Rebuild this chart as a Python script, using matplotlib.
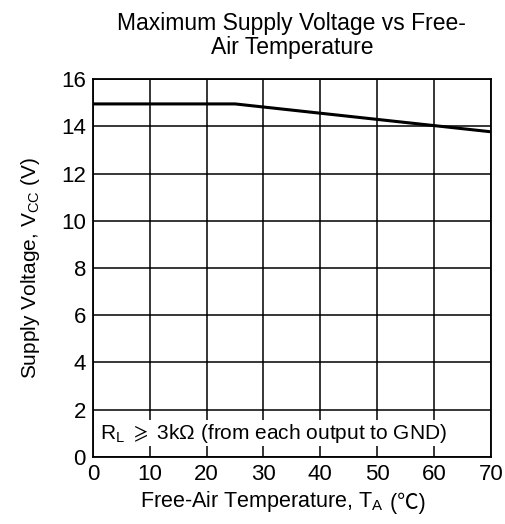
import matplotlib
matplotlib.use('Agg')
import matplotlib.pyplot as plt

plt.rcParams['font.family'] = ['Liberation Sans', 'Noto Sans CJK SC', 'DejaVu Sans']
plt.rcParams['mathtext.fontset'] = 'custom'
plt.rcParams['mathtext.rm'] = 'Liberation Sans'
plt.rcParams['mathtext.it'] = 'Liberation Sans'
plt.rcParams['mathtext.fallback'] = 'stix'

# 读图得到的数据
temp = [0, 25, 70]
vcc_max = [14.95, 14.95, 13.77]
x_ticks = [0, 10, 20, 30, 40, 50, 60, 70]
y_ticks = [0, 2, 4, 6, 8, 10, 12, 14, 16]

fig = plt.figure(figsize=(5.05, 5.24), dpi=100)
ax = fig.add_axes([0.184, 0.128, 0.788, 0.721])

ax.plot(temp, vcc_max, color='black', linewidth=2.2, zorder=3)

ax.set_xlim(0, 70)
ax.set_ylim(0, 16)
ax.set_xticks(x_ticks)
ax.set_yticks(y_ticks)
ax.grid(True, color='black', linewidth=1.1)
ax.tick_params(length=0, labelsize=16, pad=5)
for s in ax.spines.values():
    s.set_linewidth(1.3)

ax.set_title('Maximum Supply Voltage vs Free-\nAir Temperature', fontsize=16.5,
             pad=18, linespacing=1.05)
ax.set_ylabel('Supply Voltage, V$_{\\mathrm{CC}}$ (V)', fontsize=15, labelpad=14)

# x轴标题: 数学文本里没有℃，分两段画
xl1 = fig.text(0.76, 0.02, 'Free-Air Temperature, T$_{\\mathrm{A}}$', fontsize=15.5,
               ha='right', va='bottom')
ax.annotate(' (℃)', xy=(1, 0), xycoords=xl1, fontsize=15.5, ha='left', va='bottom',
            family=['Liberation Sans', 'Noto Sans CJK SC'])

ax.text(1.2, 1.0, 'R$_{\\mathrm{L}}$ $\\geqslant$ 3k$\\Omega$ (from each output to GND)', fontsize=15,
        va='center', ha='left', zorder=4,
        bbox=dict(facecolor='white', edgecolor='none', pad=1))

fig.savefig('out.png', dpi=100)
